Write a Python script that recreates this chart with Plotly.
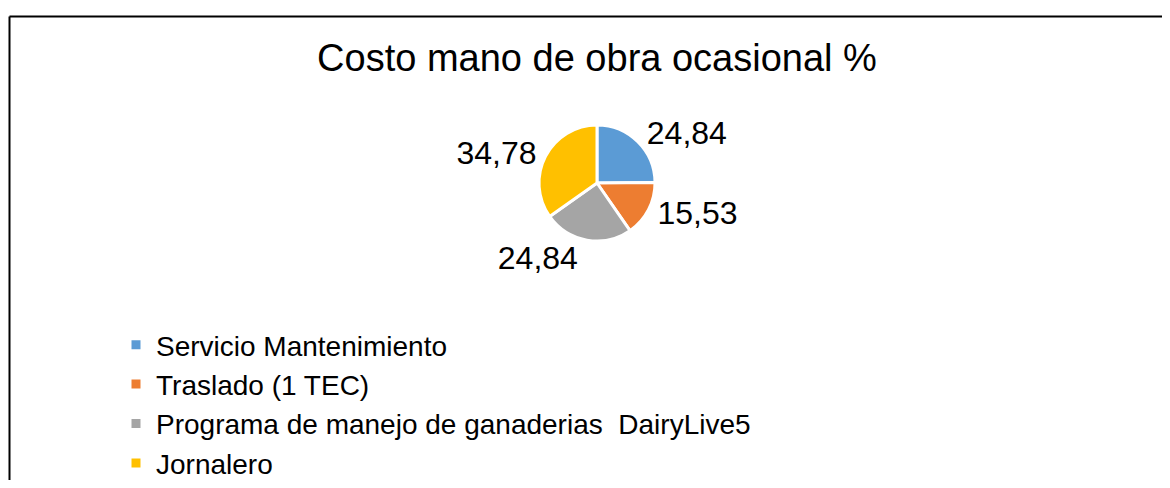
import plotly.graph_objects as go

categories = ["Servicio Mantenimiento", "Traslado (1 TEC)",
              "Programa de manejo de ganaderias  DairyLive5", "Jornalero"]
values = [24.84, 15.53, 24.84, 34.78]
colors = ["#5B9BD5", "#ED7D31", "#A5A5A5", "#FFC000"]
title_text = "Costo mano de obra ocasional %"

# page body has an 8px margin; size the figure so it fits the 1170x488 window
OFF = 8
W, H = 1170 - 2 * OFF, 488 - 2 * OFF


def px(x):
    return (x - OFF) / W


def py(y):
    return 1 - (y - OFF) / H


cx, cy = px(597), py(183)
rad = 58

fig = go.Figure(go.Pie(
    labels=categories,
    values=values,
    sort=False,
    direction="clockwise",
    rotation=0,
    marker=dict(colors=colors, line=dict(color="white", width=3)),
    texttemplate="%{value:.2f}",
    textposition="outside",
    outsidetextfont=dict(family="Arial, Liberation Sans", size=32, color="black"),
    domain=dict(x=[cx - rad / W, cx + rad / W], y=[cy - rad / H, cy + rad / H]),
    automargin=False,
))

frame = dict(color="black", width=2)
fig.update_layout(
    width=W, height=H,
    separators=",.",
    margin=dict(l=0, r=0, t=0, b=0, autoexpand=False),
    paper_bgcolor="white",
    font=dict(family="Arial, Liberation Sans", color="black"),
    title=dict(text=title_text, x=px(597), xanchor="center", y=py(58), yanchor="middle",
               font=dict(size=38, color="black")),
    legend=dict(orientation="v", x=px(116), xanchor="left", y=py(320), yanchor="top",
                font=dict(size=28, color="black"), bgcolor="rgba(0,0,0,0)"),
    shapes=[
        dict(type="line", xref="paper", yref="paper",
             x0=px(9.5), x1=1.0, y0=py(16.5), y1=py(16.5), line=frame),
        dict(type="line", xref="paper", yref="paper",
             x0=px(9.5), x1=px(9.5), y0=py(16.5), y1=0.0, line=frame),
    ],
)

fig.write_html("out.html")
